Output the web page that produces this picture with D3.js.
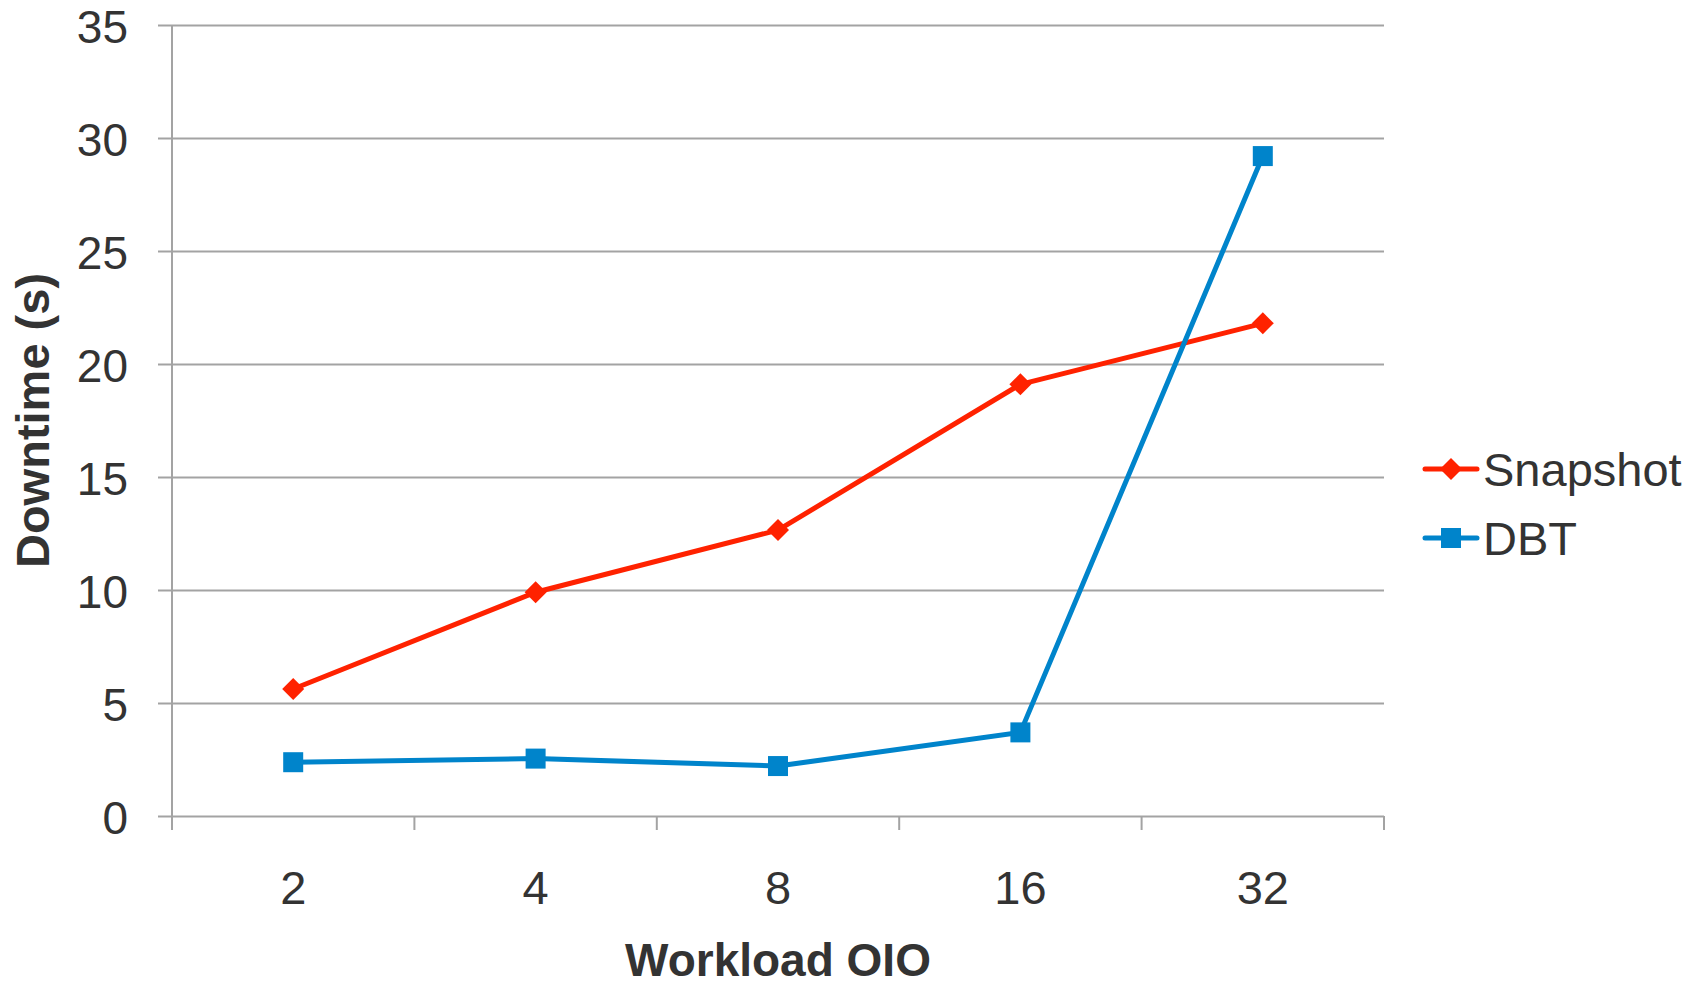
<!DOCTYPE html>
<html>
<head>
<meta charset="utf-8">
<script src="https://cdn.jsdelivr.net/npm/d3@7"></script>
<style>
  html, body { margin: 0; padding: 0; background: #fff; }
  svg { display: block; font-family: "Liberation Sans", Arial, sans-serif; }
</style>
</head>
<body>
<svg id="chart" width="1702" height="987"></svg>
<script>
// Workload outstanding I/O levels
const categories = ["2", "4", "8", "16", "32"];
// Downtime in seconds for each method
const snapshotValues = [5.62, 9.9, 12.65, 19.1, 21.8];
const dbtValues = [2.38, 2.54, 2.21, 3.7, 29.2];
const yTicks = [0, 5, 10, 15, 20, 25, 30, 35];

const series = [
  { name: "Snapshot", values: snapshotValues, color: "#ff2200", marker: "diamond" },
  { name: "DBT", values: dbtValues, color: "#0084cb", marker: "square" }
];

const margin = { left: 172, right: 318, top: 25, bottom: 171 };
const W = 1702, H = 987;
const svg = d3.select("#chart");

const x = d3.scaleBand().domain(categories).range([margin.left, W - margin.right]).padding(0);
const y = d3.scaleLinear().domain([0, 35]).range([H - margin.bottom, margin.top]);

const gridColor = "#a3a3a3";
const textColor = "#333333";

// Horizontal gridlines with left tick stubs
const yAxis = d3.axisLeft(y).tickValues(yTicks).tickSize(14).tickPadding(30);
const gy = svg.append("g").attr("transform", `translate(${margin.left},0)`).call(yAxis);
gy.select(".domain").remove();
gy.selectAll(".tick line").attr("stroke", gridColor).attr("stroke-width", 2)
  .attr("x2", -14).attr("x1", x.range()[1] - margin.left);
gy.selectAll(".tick text").attr("fill", textColor).attr("font-size", 46)
  .attr("dy", "0.38em")
  .attr("font-family", "Liberation Sans, Arial, sans-serif");

// Vertical axis line
svg.append("line")
  .attr("x1", margin.left).attr("x2", margin.left)
  .attr("y1", y(35)).attr("y2", y(0) + 14)
  .attr("stroke", gridColor).attr("stroke-width", 2);

// Category axis: tick marks sit on the band boundaries
const gx = svg.append("g").attr("transform", `translate(0,${y(0)})`);
const bounds = categories.map(c => x(c)).concat([x.range()[1]]);
gx.selectAll("line.tk").data(bounds).join("line")
  .attr("class", "tk")
  .attr("x1", d => d).attr("x2", d => d)
  .attr("y1", 0).attr("y2", 14)
  .attr("stroke", gridColor).attr("stroke-width", 2);
gx.selectAll("text").data(categories).join("text")
  .attr("x", d => x(d) + x.bandwidth() / 2)
  .attr("y", 88)
  .attr("text-anchor", "middle")
  .attr("fill", textColor).attr("font-size", 47)
  .text(d => d);

// Axis titles
svg.append("text")
  .attr("x", (x.range()[0] + x.range()[1]) / 2)
  .attr("y", 976)
  .attr("text-anchor", "middle")
  .attr("font-weight", "bold").attr("font-size", 46).attr("fill", textColor)
  .text("Workload OIO");
svg.append("text")
  .attr("transform", `translate(49,${(y(0) + y(35)) / 2}) rotate(-90)`)
  .attr("text-anchor", "middle")
  .attr("font-weight", "bold").attr("font-size", 47).attr("fill", textColor)
  .text("Downtime (s)");

const cx = c => x(c) + x.bandwidth() / 2;
const line = d3.line().x((d, i) => cx(categories[i])).y(d => y(d));

function drawMarker(g, type, color) {
  if (type === "diamond") {
    g.append("path").attr("d", "M0,-11 L11,0 L0,11 L-11,0 Z").attr("fill", color);
  } else {
    g.append("rect").attr("x", -10).attr("y", -10).attr("width", 20).attr("height", 20).attr("fill", color);
  }
}

series.forEach(s => {
  svg.append("path")
    .datum(s.values)
    .attr("d", line)
    .attr("fill", "none")
    .attr("stroke", s.color)
    .attr("stroke-width", 5)
    .attr("stroke-linejoin", "round");
  s.values.forEach((v, i) => {
    const g = svg.append("g").attr("transform", `translate(${cx(categories[i])},${y(v)})`);
    drawMarker(g, s.marker, s.color);
  });
});

// Legend
const legend = svg.append("g");
const legendY = [469, 538];
series.forEach((s, i) => {
  const g = legend.append("g").attr("transform", `translate(1423,${legendY[i]})`);
  g.append("line").attr("x1", 2).attr("x2", 54).attr("y1", 0).attr("y2", 0)
    .attr("stroke", s.color).attr("stroke-width", 5).attr("stroke-linecap", "round");
  const m = g.append("g").attr("transform", "translate(28,0)");
  drawMarker(m, s.marker, s.color);
  g.append("text").attr("x", 60).attr("y", 17)
    .attr("font-size", 47).attr("fill", textColor).text(s.name);
});
</script>
</body>
</html>
